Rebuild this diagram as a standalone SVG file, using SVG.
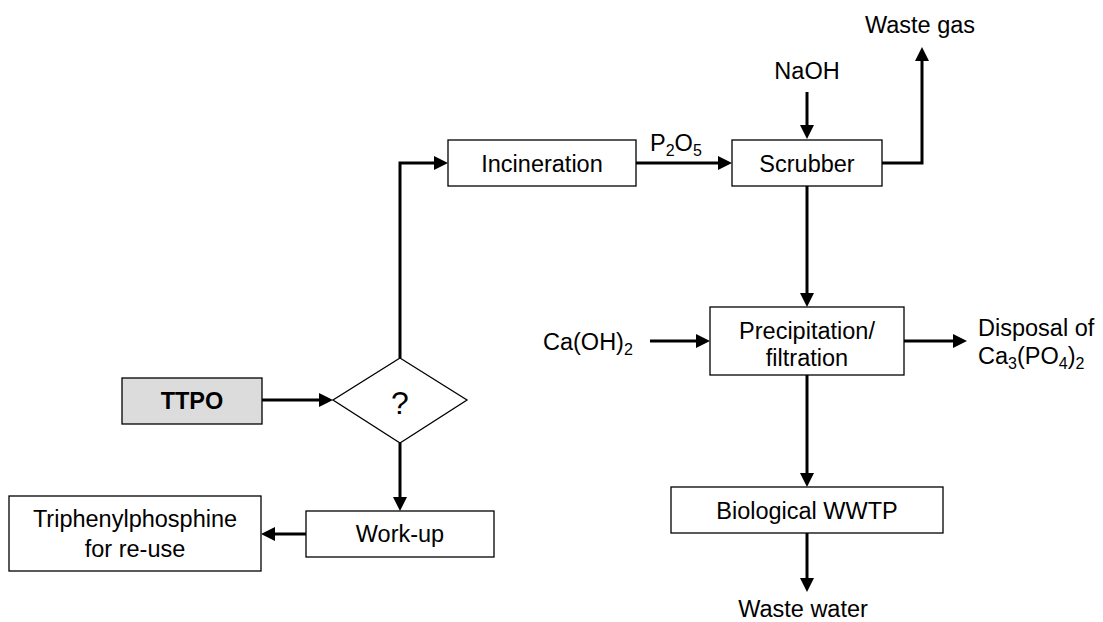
<svg xmlns="http://www.w3.org/2000/svg" width="1103" height="622" viewBox="0 0 1103 622">
<style>
.box{fill:#fff;stroke:#000;stroke-width:1.3}
.gray{fill:#dcdcdc}
.t{font-family:"Liberation Sans",Arial,sans-serif;font-size:23.5px;fill:#000}
.c{text-anchor:middle}
.b{font-weight:bold}
.sub{font-size:16px}
.conn{fill:none;stroke:#000;stroke-width:3}
</style>
<defs>
<marker id="ah" markerUnits="userSpaceOnUse" markerWidth="15" markerHeight="15" refX="3" refY="7" orient="auto">
<path d="M0,0 L14,7 L0,14 z" fill="#000"/>
</marker>
</defs>
<rect width="1103" height="622" fill="#fff"/>
<g id="connectors" class="conn" marker-end="url(#ah)">
<path d="M262,400 H322"/>
<path d="M400,358 V163 H437"/>
<path d="M636,163 H721"/>
<path d="M807,92 V128"/>
<path d="M882,163 H922 V58"/>
<path d="M807,186 V296"/>
<path d="M650,341 H699"/>
<path d="M904,341 H956"/>
<path d="M807,375 V476"/>
<path d="M807,533 V581"/>
<path d="M400,443 V500"/>
<path d="M306,534 H272"/>
</g>
<g id="ttpo">
<rect class="box gray" x="122" y="378" width="140" height="46"/>
<text class="t c b" x="192" y="409">TTPO</text>
</g>
<g id="decision">
<path class="box" d="M400,358 L467,400 L400,443 L333,400 Z"/>
<text class="t c" x="400" y="414" style="font-size:32px">?</text>
</g>
<g id="incineration">
<rect class="box" x="448" y="140" width="188" height="46"/>
<text class="t c" x="542" y="172">Incineration</text>
</g>
<g id="p2o5">
<text class="t" x="650" y="151">P<tspan class="sub" dy="5">2</tspan><tspan dy="-5">O</tspan><tspan class="sub" dy="5">5</tspan></text>
</g>
<g id="naoh">
<text class="t c" x="807" y="79">NaOH</text>
</g>
<g id="wastegas">
<text class="t c" x="920" y="33">Waste gas</text>
</g>
<g id="scrubber">
<rect class="box" x="732" y="140" width="150" height="46"/>
<text class="t c" x="807" y="172">Scrubber</text>
</g>
<g id="caoh2">
<text class="t" x="543" y="350">Ca(OH)<tspan class="sub" dy="5">2</tspan></text>
</g>
<g id="precipitation">
<rect class="box" x="710" y="307" width="194" height="68"/>
<text class="t c" x="807" y="339">Precipitation/</text>
<text class="t c" x="807" y="366">filtration</text>
</g>
<g id="disposal">
<text class="t" x="978" y="336">Disposal of</text>
<text class="t" x="978" y="364">Ca<tspan class="sub" dy="5">3</tspan><tspan dy="-5">(PO</tspan><tspan class="sub" dy="5">4</tspan><tspan dy="-5">)</tspan><tspan class="sub" dy="5">2</tspan></text>
</g>
<g id="wwtp">
<rect class="box" x="671" y="487" width="272" height="46"/>
<text class="t c" x="807" y="519">Biological WWTP</text>
</g>
<g id="wastewater">
<text class="t c" x="803" y="617">Waste water</text>
</g>
<g id="workup">
<rect class="box" x="306" y="511" width="188" height="46"/>
<text class="t c" x="400" y="542">Work-up</text>
</g>
<g id="triphenylphosphine">
<rect class="box" x="9" y="496" width="252" height="75"/>
<text class="t c" x="135" y="527">Triphenylphosphine</text>
<text class="t c" x="135" y="557">for re-use</text>
</g>
</svg>
